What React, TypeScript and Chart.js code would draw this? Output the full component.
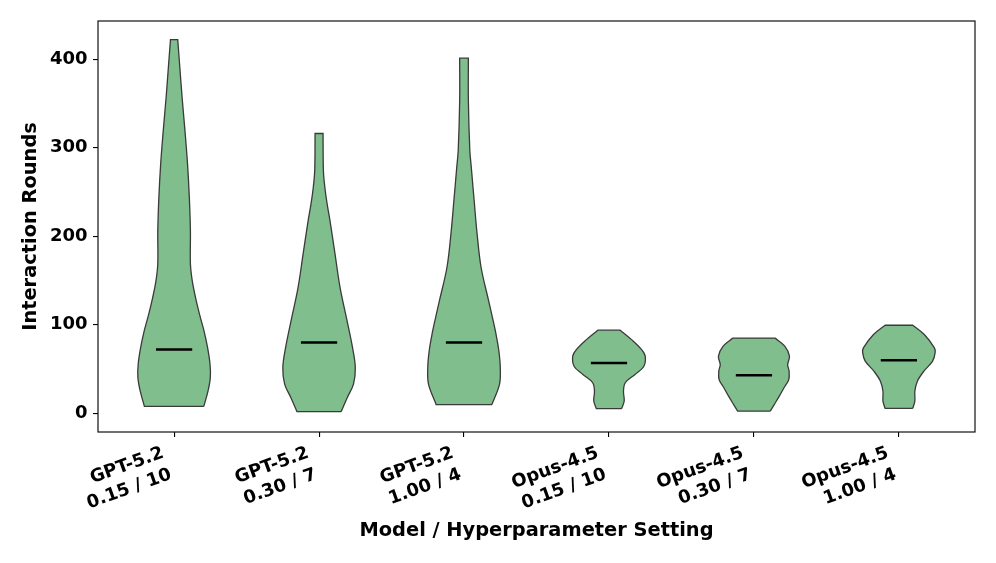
import React, { useEffect, useRef } from "react";
import { Chart, registerables } from "chart.js";

Chart.register(...registerables);

// ---- Data ----
const categories: string[][] = [
  ["GPT-5.2", "0.15 / 10"],
  ["GPT-5.2", "0.30 / 7"],
  ["GPT-5.2", "1.00 / 4"],
  ["Opus-4.5", "0.15 / 10"],
  ["Opus-4.5", "0.30 / 7"],
  ["Opus-4.5", "1.00 / 4"],
];
const xTicks = [0, 1, 2, 3, 4, 5];
const yTicks = [0, 100, 200, 300, 400];
const medians = [72, 80, 80, 57, 43, 60];

// density profiles: value levels and relative half-widths (1 = widest)
const gpt015Levels = [8, 26, 41, 56, 75, 94, 112, 131, 150, 169, 206, 244, 282, 319, 357, 395, 422];
const gpt015Widths = [0.82, 0.94, 1.0, 0.99, 0.92, 0.82, 0.7, 0.59, 0.5, 0.45, 0.45, 0.42, 0.37, 0.3, 0.22, 0.15, 0.1];

const gpt030Levels = [2, 18, 33, 52, 75, 105, 142, 180, 218, 237, 255, 274, 316];
const gpt030Widths = [0.61, 0.78, 0.95, 1.0, 0.92, 0.77, 0.58, 0.44, 0.3, 0.22, 0.16, 0.12, 0.11];

const gpt100Levels = [10, 33, 52, 71, 90, 109, 127, 165, 203, 240, 278, 297, 353, 401];
const gpt100Widths = [0.77, 0.98, 1.0, 0.96, 0.88, 0.78, 0.68, 0.47, 0.36, 0.28, 0.2, 0.16, 0.12, 0.12];

const opus015Levels = [5.5, 14, 25, 34.6, 44, 53, 64.6, 72, 83, 94];
const opus015Widths = [0.35, 0.42, 0.4, 0.45, 0.72, 0.96, 1.0, 0.9, 0.63, 0.31];

const opus030Levels = [2.6, 10, 19.5, 29, 38, 47.7, 55, 64.6, 76, 85];
const opus030Widths = [0.45, 0.56, 0.7, 0.83, 0.96, 0.97, 0.93, 0.98, 0.85, 0.58];

const opus100Levels = [5.6, 13.9, 25, 36.4, 47.7, 59, 68.7, 74, 89, 99.5];
const opus100Widths = [0.38, 0.44, 0.44, 0.51, 0.69, 0.93, 1.0, 0.98, 0.7, 0.38];

const violinLevels = [gpt015Levels, gpt030Levels, gpt100Levels, opus015Levels, opus030Levels, opus100Levels];
const violinWidths = [gpt015Widths, gpt030Widths, gpt100Widths, opus015Widths, opus030Widths, opus100Widths];

const HALF_WIDTH = 0.25;
const MEDIAN_HALF = 0.125;
const FILL = "#80bf8d";
const EDGE = "#3a3a3a";

function outline(pos: number, levels: number[], widths: number[]) {
  const n = levels.length;
  const right = levels.map((v, k) => ({ x: pos + HALF_WIDTH * widths[k], y: v }));
  const left = levels.map((v, k) => ({ x: pos - HALF_WIDTH * widths[k], y: v })).reverse();
  // duplicated end points keep flat tops/bottoms with sharp corners
  return [right[0], ...right, right[n - 1], left[0], ...left, left[n - 1], right[0]];
}

const framePlugin = {
  id: "frame",
  afterDraw(chart: any) {
    const { ctx, chartArea } = chart;
    ctx.save();
    ctx.strokeStyle = "#111";
    ctx.lineWidth = 1.2;
    ctx.strokeRect(chartArea.left, chartArea.top, chartArea.right - chartArea.left, chartArea.bottom - chartArea.top);
    ctx.restore();
  },
};

export default function App() {
  const ref = useRef<HTMLCanvasElement>(null);

  useEffect(() => {
    document.body.style.margin = "0";
    Chart.defaults.font.family = "'DejaVu Sans', sans-serif";
    Chart.defaults.color = "#000";

    const datasets: any[] = [];
    medians.forEach((m, i) => {
      datasets.push({
        data: [
          { x: i - MEDIAN_HALF, y: m },
          { x: i + MEDIAN_HALF, y: m },
        ],
        borderColor: "#000",
        borderWidth: 2.5,
        pointRadius: 0,
        fill: false,
        tension: 0,
        order: 0,
      });
    });
    violinLevels.forEach((lv, i) => {
      datasets.push({
        data: outline(i, lv, violinWidths[i]),
        borderColor: EDGE,
        borderWidth: 1.3,
        backgroundColor: FILL,
        fill: "shape",
        pointRadius: 0,
        tension: 0.35,
        order: 1,
      });
    });

    const chart = new Chart(ref.current!, {
      type: "line",
      data: { datasets },
      plugins: [framePlugin],
      options: {
        animation: false,
        responsive: false,
        devicePixelRatio: 1,
        layout: { padding: { top: 21, right: 21, left: 0, bottom: 0 } },
        plugins: { legend: { display: false }, tooltip: { enabled: false } },
        scales: {
          x: {
            type: "linear",
            min: -0.525,
            max: 5.525,
            afterBuildTicks: (s: any) => {
              s.ticks = xTicks.map((v) => ({ value: v }));
            },
            afterFit: (s: any) => {
              s.height = 131;
            },
            border: { display: false },
            grid: { drawOnChartArea: false, drawTicks: true, tickLength: 5, color: "#000", lineWidth: 1.1 },
            ticks: {
              autoSkip: false,
              minRotation: 20,
              maxRotation: 20,
              padding: 5,
              labelOffset: -11,
              color: "#000",
              font: { size: 18, weight: "bold", lineHeight: 1.26 },
              callback: (v: any) => categories[Math.round(Number(v))],
            },
            title: {
              display: true,
              text: "Model / Hyperparameter Setting",
              color: "#000",
              font: { size: 19.4, weight: "bold" },
              padding: { top: 0, bottom: 20 },
            },
          },
          y: {
            type: "linear",
            min: -21,
            max: 443,
            afterBuildTicks: (s: any) => {
              s.ticks = yTicks.map((v) => ({ value: v }));
            },
            afterFit: (s: any) => {
              s.width = 98;
            },
            border: { display: false },
            grid: { drawOnChartArea: false, drawTicks: true, tickLength: 5, color: "#000", lineWidth: 1.1 },
            ticks: {
              padding: 5.5,
              color: "#000",
              font: { size: 18, weight: "bold" },
            },
            title: {
              display: true,
              text: "Interaction Rounds",
              color: "#000",
              font: { size: 19.4, weight: "bold" },
              padding: { top: 19, bottom: 0 },
            },
          },
        },
      } as any,
    });
    return () => chart.destroy();
  }, []);

  return (
    <div style={{ width: 996, height: 563 }}>
      <canvas ref={ref} width={996} height={563} />
    </div>
  );
}
